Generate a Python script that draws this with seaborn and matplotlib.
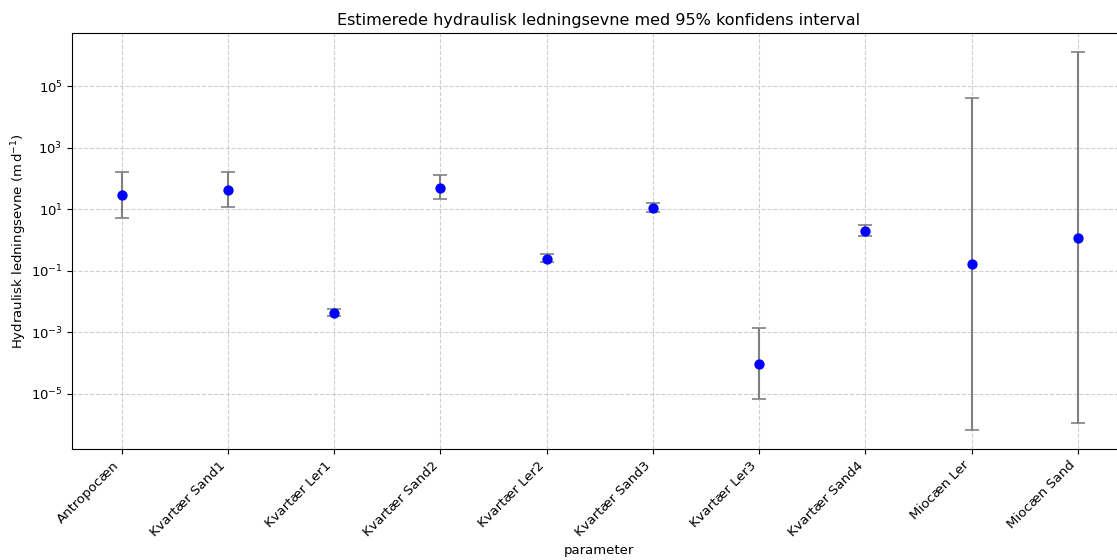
import matplotlib
matplotlib.use("Agg")
import matplotlib.pyplot as plt
import numpy as np
import pandas as pd
import seaborn as sns

# Estimated hydraulic conductivity per geological unit with 95% CI bounds (m/d)
parameters = ["Antropocæn", "Kvartær Sand1", "Kvartær Ler1", "Kvartær Sand2",
              "Kvartær Ler2", "Kvartær Sand3", "Kvartær Ler3", "Kvartær Sand4",
              "Miocæn Ler", "Miocæn Sand"]
estimate = [28.5, 42.5, 0.0044, 50.0, 0.25, 10.8, 9.3e-5, 2.0, 0.165, 1.2]
lower = [5.1, 12.3, 0.0033, 21.0, 0.19, 7.9, 6.8e-6, 1.36, 6.6e-7, 1.17e-6]
upper = [162.0, 162.0, 0.0059, 134.0, 0.35, 15.7, 1.4e-3, 3.0, 4.3e4, 1.3e6]

df = pd.DataFrame({"parameter": parameters, "K": estimate,
                   "lower": lower, "upper": upper})

fig = plt.figure(figsize=(11.17, 5.6), dpi=100)
ax = fig.add_axes([0.0647, 0.198, 0.9432, 0.743])

x = np.arange(len(df))
yerr = np.vstack([df["K"] - df["lower"], df["upper"] - df["K"]])
ax.errorbar(x, df["K"], yerr=yerr, fmt="none", ecolor="gray",
            elinewidth=1.5, capsize=5, capthick=1.2, zorder=2)
sns.scatterplot(data=df, x="parameter", y="K", color="blue", s=55,
                linewidth=0, ax=ax, zorder=3)

ax.set_yscale("log")
ax.set_xlim(-0.465, 9.45)
ax.set_title("Estimerede hydraulisk ledningsevne med 95% konfidens interval",
             fontsize=11.5)
ax.set_xlabel("parameter", fontsize=9.5)
ax.set_ylabel(r"Hydraulisk ledningsevne (m$\,$d$^{-1}$)", fontsize=9.5,
              labelpad=1)
ax.set_xticks(x)
ax.set_xticklabels(parameters, rotation=45, ha="right")
ax.tick_params(axis="both", labelsize=9.5)
ax.grid(True, which="major", linestyle="--", color="#bbbbbb", alpha=0.7)
ax.set_axisbelow(True)

fig.savefig("out.png", dpi=100)
